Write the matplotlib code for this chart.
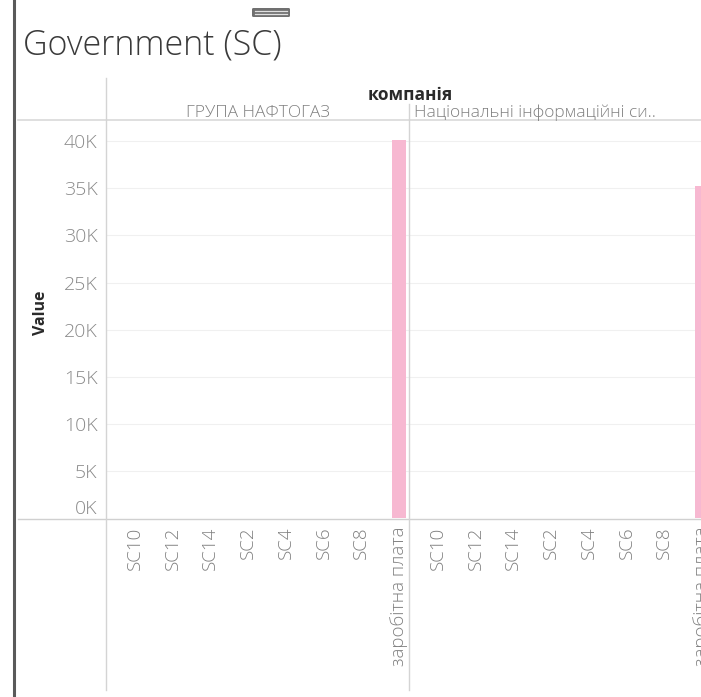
import matplotlib.pyplot as plt
from matplotlib.lines import Line2D
from matplotlib.patches import FancyBboxPatch
from matplotlib.transforms import ScaledTranslation

# data
categories = ["SC10", "SC12", "SC14", "SC2", "SC4", "SC6", "SC8", "заробітна плата"]
companies = ["ГРУПА НАФТОГАЗ", "Національні інформаційні си.."]
naftogaz_values = [0, 0, 0, 0, 0, 0, 0, 40100]
nis_values = [0, 0, 0, 0, 0, 0, 0, 35300]
y_ticks = [0, 5000, 10000, 15000, 20000, 25000, 30000, 35000, 40000]
y_tick_labels = ["0K", "5K", "10K", "15K", "20K", "25K", "30K", "35K", "40K"]

W, H = 701, 697
FONT = ["Open Sans", "DejaVu Sans"]
plt.rcParams['font.family'] = FONT

fig = plt.figure(figsize=(W / 100, H / 100), dpi=100)


def fx(x):
    return x / W


def fy(y):
    return 1 - y / H


def hline(y, x0, x1, color, lw=1.0):
    fig.add_artist(Line2D([fx(x0), fx(x1)], [fy(y), fy(y)], color=color, lw=lw,
                          transform=fig.transFigure))


def vline(x, y0, y1, color, lw=1.0):
    fig.add_artist(Line2D([fx(x), fx(x)], [fy(y0), fy(y1)], color=color, lw=lw,
                          transform=fig.transFigure))


# panel geometry (pixels)
top, bottom = 121, 518
panel_w = 303
lefts = [106, 409]
series = [naftogaz_values, nis_values]

axes = []
for i, (left, vals) in enumerate(zip(lefts, series)):
    ax = fig.add_axes([fx(left), fy(bottom), fx(panel_w), (bottom - top) / H])
    xs = list(range(len(categories)))
    ax.bar(xs, vals, width=0.37, color="#f7b8d1", zorder=3)
    ax.set_xlim(-0.77, 7.27)
    ax.set_ylim(0, 42150)
    ax.set_yticks(y_ticks)
    ax.grid(axis='y', color="#f0f0f0", lw=0.8, zorder=0)
    ax.set_xticks(xs)
    ax.set_xticklabels(categories, rotation=90, fontsize=13.5, color="#808080",
                       fontweight='light')
    ax.tick_params(axis='x', length=0, pad=6)
    if i == 0:
        ax.set_yticklabels(y_tick_labels, fontsize=14, color="#8a8a8a",
                           fontweight='light')
        ax.tick_params(axis='y', length=0, pad=6)
        # tableau nudges the bottom label up to stay inside
        lab0 = ax.get_yticklabels()[0]
        lab0.set_transform(lab0.get_transform() + ScaledTranslation(0, 8 / 72, fig.dpi_scale_trans))
    else:
        ax.set_yticklabels([])
        ax.tick_params(axis='y', length=0)
    for s in ax.spines.values():
        s.set_visible(False)
    axes.append(ax)

# frame lines
vline(14, 0, H, "#5a5a5a", lw=2.2)
hline(120, 18, W, "#d9d9d9", lw=1.2)
hline(518.5, 18, W, "#d0d0d0", lw=1.0)
vline(106, 78, 690, "#d4d4d4", lw=1.0)
vline(409, 104, 690, "#d4d4d4", lw=1.0)

# drag handle
fig.add_artist(FancyBboxPatch((fx(252), fy(17)), fx(38), 9 / H,
                              boxstyle="round,pad=0,rounding_size=0.002",
                              facecolor="#707070", edgecolor="none",
                              transform=fig.transFigure))
hline(11.0, 255, 287, "#e0e0e0", lw=0.9)
hline(14.0, 255, 287, "#e0e0e0", lw=0.9)

# texts
fig.text(fx(23), fy(45), "Government (SC)", fontsize=24.5, color="#3a3a3a",
         fontweight='light', ha='left', va='center')
fig.text(fx(410), fy(95), "компанія", fontsize=12.5, color="#2a2a2a",
         fontweight='bold', ha='center', va='center')
fig.text(fx(257.5), fy(113), companies[0], fontsize=12.5, color="#808080",
         fontweight='light', ha='center', va='center')
fig.text(fx(414), fy(113), companies[1], fontsize=12.5, color="#808080",
         fontweight='light', ha='left', va='center')
fig.text(fx(41), fy(313), "Value", fontsize=11.5, color="#2a2a2a",
         fontweight='bold', rotation=90, ha='center', va='center')

fig.savefig("out.png", dpi=100, facecolor="white")
